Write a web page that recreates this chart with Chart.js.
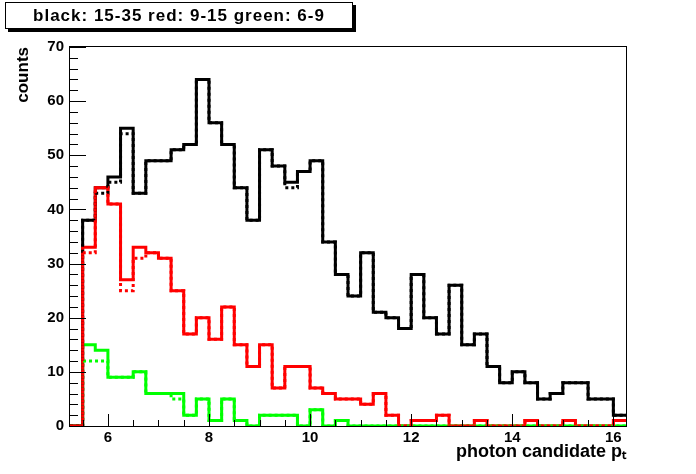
<!DOCTYPE html>
<html><head><meta charset="utf-8">
<script src="https://cdn.jsdelivr.net/npm/chart.js@4"></script>
<style>
html,body{margin:0;padding:0;background:#fff;}
#wrap{position:relative;width:696px;height:474px;overflow:hidden;}
canvas{position:absolute;left:0;top:0;}
#legendBox{position:absolute;left:5px;top:2px;width:346px;height:25px;border:1px solid #000;box-shadow:3px 3px 0 #000;background:#fff;
 font:bold 17px "Liberation Sans",Arial,sans-serif;text-align:center;line-height:26px;letter-spacing:1px;white-space:nowrap;color:#000;}
</style></head>
<body><div id="wrap"><canvas id="c" width="696" height="474"></canvas><div id="legendBox">black: 15-35 red: 9-15 green: 6-9</div></div>
<script>
// bin lower edges (pt), last upper edge
const binLowEdges = [5.25,5.5,5.75,6,6.25,6.5,6.75,7,7.25,7.5,7.75,8,8.25,8.5,8.75,9,9.25,9.5,9.75,10,10.25,10.5,10.75,11,11.25,11.5,11.75,12,12.25,12.5,12.75,13,13.25,13.5,13.75,14,14.25,14.5,14.75,15,15.25,15.5,15.75,16];
const lastEdge = 16.25;
const blackCounts = [0,38,44,46,55,43,49,49,51,52,64,56,52,44,38,51,48,45,47,49,34,28,24,32,21,20,18,28,20,17,26,15,17,11,8,10,8,5,6,8,8,5,5,2];
const blackCountsDotted = [0,38,43,45,54,43,49,49,51,52,64,56,52,44,38,51,48,44,47,49,34,28,24,32,21,20,18,28,20,17,26,15,17,11,8,10,8,5,6,8,8,5,5,2];
const redCounts = [0,33,44,41,27,33,32,31,25,17,20,16,22,15,11,15,7,11,11,7,6,5,5,4,6,2,0,1,1,2,0,0,1,0,0,0,1,0,0,1,0,0,0,1];
const redCountsDotted = [0,32,44,41,25,31,32,31,25,17,20,16,22,15,11,15,7,11,11,7,6,5,5,4,6,2,0,1,1,2,0,0,1,0,0,0,1,0,0,1,0,0,0,1];
const greenCounts = [0,15,14,9,9,10,6,6,6,2,5,1,5,1,0,2,2,2,0,3,0,1,0,0,0,0,0,0,0,0,0,0,0,0,0,0,0,0,0,0,0,0,0,0];
const greenCountsDotted = [0,12,12,9,9,10,6,6,5,2,5,1,5,1,0,2,2,2,0,3,0,1,0,0,0,0,0,0,0,0,0,0,0,0,0,0,0,0,0,0,0,0,0,0];
const xTickValues = [6,8,10,12,14,16];
const yTickStep = 10;

function histPoints(vals){
  const pts = binLowEdges.map((e,i)=>({x:e,y:vals[i]}));
  pts.push({x:lastEdge,y:vals[vals.length-1]});
  return pts;
}
function ds(vals,color,dotted,order){
  return {data:histPoints(vals),borderColor:color,borderWidth:3,pointRadius:0,stepped:true,
    borderDash:dotted?[3,3]:[],fill:false,order:order,borderCapStyle:'butt',borderJoinStyle:'miter'};
}
const FONT = '"Liberation Sans", Arial, sans-serif';
const frameTicks = {
  id:'frameTicks',
  beforeDatasetsDraw(chart){
    const {ctx,chartArea:a}=chart;
    ctx.save();ctx.strokeStyle='#000';ctx.lineWidth=1;
    ctx.strokeRect(a.left-0.5,a.top-0.5,a.right-a.left+1,a.bottom-a.top+1);
    ctx.restore();
  },
  afterDatasetsDraw(chart){
    const {ctx,chartArea:a,scales}=chart;
    ctx.save();ctx.strokeStyle='#000';ctx.lineWidth=1;ctx.beginPath();
    for(let v=0;v<=70;v+=2){
      const y=Math.round(scales.y.getPixelForValue(v))+0.5;
      const len=(v%10===0)?16:8;
      ctx.moveTo(a.left,y);ctx.lineTo(a.left+len,y);
    }
    for(let v=5.5;v<=16.001;v+=0.5){
      const x=Math.round(scales.x.getPixelForValue(v))+0.5;
      const len=(Math.abs(v/2-Math.round(v/2))<1e-6)?12:6;
      ctx.moveTo(x,a.bottom);ctx.lineTo(x,a.bottom-len);
    }
    ctx.stroke();ctx.restore();
  }
};
new Chart(document.getElementById('c'),{
  type:'line',
  data:{datasets:[
    ds(greenCounts,'#00ff00',false,6),
    ds(blackCounts,'#000000',false,5),
    ds(redCounts,'#ff0000',false,4),
    ds(greenCountsDotted,'#00ff00',true,3),
    ds(blackCountsDotted,'#000000',true,2),
    ds(redCountsDotted,'#ff0000',true,1)
  ]},
  options:{
    responsive:false,animation:false,devicePixelRatio:1,
    layout:{padding:{top:47,right:70,bottom:0,left:0}},
    plugins:{legend:{display:false},tooltip:{enabled:false}},
    scales:{
      x:{type:'linear',min:5.25,max:16.25,
        afterBuildTicks:s=>{s.ticks=xTickValues.map(v=>({value:v}));},
        afterFit:s=>{s.height=48;},
        grid:{display:false,drawTicks:false},border:{display:false},
        ticks:{color:'#000',font:{family:FONT,size:15,weight:'bold'},padding:3,maxRotation:0,autoSkip:false},
        title:{display:true,text:'photon candidate pₜ',align:'end',color:'#000',font:{family:FONT,size:18,weight:'bold'},padding:{top:0,bottom:11}}
      },
      y:{min:0,max:70,
        afterFit:s=>{s.width=70;},
        grid:{display:false,drawTicks:false},border:{display:false},
        ticks:{stepSize:yTickStep,color:'#000',font:{family:FONT,size:15,weight:'bold'},padding:6},
        title:{display:true,text:'counts',align:'end',color:'#000',font:{family:FONT,size:17,weight:'bold'},padding:{top:13,bottom:0}}
      }
    }
  },
  plugins:[frameTicks]
});
</script>
</body></html>
